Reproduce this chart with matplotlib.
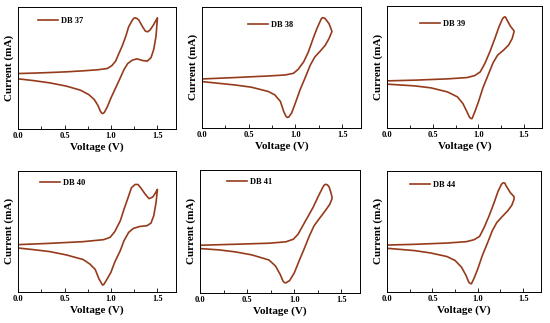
import matplotlib.pyplot as plt
from matplotlib.ticker import MultipleLocator

plt.rcParams['font.family'] = ['Liberation Serif', 'DejaVu Serif']
plt.rcParams['font.weight'] = 'bold'

# cyclic voltammograms, current in arbitrary units (no y scale on the figure)
labels = ['DB 37', 'DB 38', 'DB 39', 'DB 40', 'DB 41', 'DB 44']

v37 = [0.0, 0.16, 0.34, 0.52, 0.70, 0.85, 0.96, 1.01, 1.05, 1.08, 1.12, 1.16, 1.19, 1.23, 1.245, 1.26,
       1.28, 1.30, 1.34, 1.37, 1.395, 1.42, 1.46, 1.50,
       1.485, 1.46, 1.43, 1.39, 1.34, 1.28, 1.23, 1.18, 1.14, 1.10, 1.05, 1.00, 0.96, 0.93, 0.92,
       0.91, 0.90, 0.885, 0.86, 0.82, 0.76, 0.67, 0.52, 0.34, 0.16, 0.0]
i37 = [55.3, 55.7, 56.3, 57.0, 58.0, 59.0, 60.3, 63.3, 67.7, 74.3, 82.7, 92.7, 102.0, 108.7, 110.5, 111.0,
       110.3, 108.7, 102.0, 97.7, 97.0, 98.7, 104.3, 111.0,
       92.7, 79.3, 71.0, 67.7, 68.3, 70.0, 68.7, 65.3, 59.3, 51.0, 41.0, 31.0, 22.0, 16.7, 15.8,
       15.3, 15.8, 17.7, 23.3, 29.3, 34.3, 38.7, 42.7, 46.0, 48.3, 50.0]

v38 = [0.0, 0.35, 0.71, 0.89, 0.98, 1.03, 1.09, 1.14, 1.19, 1.23, 1.27, 1.28, 1.29, 1.305, 1.32, 1.36,
       1.39,
       1.39, 1.36, 1.32, 1.27, 1.21, 1.16, 1.11, 1.05, 1.00, 0.96, 0.93, 0.915, 0.90, 0.875, 0.84,
       0.78, 0.71, 0.53, 0.35, 0.17, 0.0]
i38 = [49.3, 50.7, 52.3, 53.3, 55.0, 59.0, 66.7, 76.7, 90.0, 100.0, 108.3, 110.3, 111.0, 110.8, 110.0,
       105.0, 97.7,
       96.7, 90.0, 83.3, 77.7, 71.7, 63.3, 51.7, 38.3, 25.0, 15.0, 11.0, 10.5, 11.7, 16.7, 26.7,
       33.3, 36.7, 41.0, 43.3, 45.0, 46.7]

v39 = [0.0, 0.30, 0.66, 0.875, 0.96, 1.02, 1.07, 1.125, 1.18, 1.225, 1.26, 1.275, 1.29, 1.30, 1.31,
       1.35, 1.39,
       1.39, 1.37, 1.33, 1.275, 1.21, 1.16, 1.11, 1.05, 1.00, 0.96, 0.93, 0.915, 0.90, 0.875, 0.83,
       0.77, 0.66, 0.48, 0.30, 0.0]
i39 = [47.0, 47.7, 49.0, 50.3, 52.3, 56.0, 64.3, 76.0, 89.3, 101.0, 108.3, 110.3, 111.0, 110.3, 108.3,
       101.7, 97.0,
       96.0, 89.3, 82.7, 77.7, 72.7, 65.0, 53.7, 40.3, 26.0, 16.0, 9.3, 9.5, 11.0, 16.0, 24.3,
       31.0, 36.0, 40.0, 42.0, 43.7]

v40 = [0.0, 0.34, 0.70, 0.92, 0.99, 1.04, 1.10, 1.14, 1.19, 1.22, 1.26, 1.29, 1.32, 1.37, 1.41,
       1.45, 1.48, 1.50,
       1.485, 1.46, 1.43, 1.385, 1.31, 1.24, 1.19, 1.14, 1.10, 1.04, 1.00, 0.95, 0.92, 0.91, 0.90,
       0.87, 0.83, 0.77, 0.70, 0.52, 0.34, 0.16, 0.0]
i40 = [47.7, 49.0, 50.7, 52.7, 55.0, 60.7, 71.7, 83.3, 96.7, 105.0, 108.3, 108.3, 105.0, 98.3, 94.0,
       95.7, 100.0, 103.3,
       90.0, 76.7, 69.3, 66.7, 66.0, 64.0, 60.0, 51.7, 41.7, 30.0, 20.0, 11.7, 7.3, 7.0, 8.3,
       13.3, 22.7, 28.3, 32.7, 37.3, 40.7, 42.7, 44.3]

v41 = [0.0, 0.375, 0.73, 0.91, 0.99, 1.04, 1.09, 1.14, 1.20, 1.25, 1.30, 1.315, 1.33, 1.35, 1.37,
       1.39, 1.40,
       1.40, 1.375, 1.33, 1.27, 1.21, 1.16, 1.11, 1.05, 1.00, 0.95, 0.91, 0.895, 0.88, 0.85, 0.80,
       0.73, 0.55, 0.375, 0.20, 0.0]
i41 = [47.3, 48.3, 49.3, 50.7, 53.3, 58.3, 66.7, 75.0, 85.0, 95.0, 104.3, 106.7, 107.7, 107.3, 105.0,
       99.0, 95.0,
       93.3, 87.7, 81.7, 74.3, 66.7, 56.7, 45.0, 31.7, 20.0, 12.3, 10.0, 10.3, 11.7, 18.3, 26.7,
       32.7, 37.7, 40.7, 42.7, 44.0]

v44 = [0.0, 0.30, 0.66, 0.875, 0.96, 1.02, 1.07, 1.125, 1.18, 1.225, 1.26, 1.275, 1.29, 1.30, 1.31,
       1.36, 1.40,
       1.40, 1.375, 1.33, 1.27, 1.21, 1.16, 1.11, 1.05, 1.00, 0.96, 0.93, 0.915, 0.90, 0.87, 0.82,
       0.75, 0.66, 0.48, 0.30, 0.0]
i44 = [47.3, 48.0, 49.3, 50.7, 52.7, 56.0, 65.0, 76.7, 90.0, 101.7, 108.3, 109.7, 110.0, 109.5, 107.3,
       100.0, 96.0,
       93.3, 87.3, 81.7, 76.0, 70.0, 61.7, 50.0, 36.7, 23.3, 14.0, 8.3, 8.6, 10.0, 16.7, 25.0,
       31.7, 35.7, 39.3, 41.7, 44.0]

voltages = [v37, v38, v39, v40, v41, v44]
currents = [i37, i38, i39, i40, i41, i44]

color = '#953b1c'

# axes boxes [left, bottom, width, height] and legend anchors (axes fraction)
boxes = [[0.033, 0.601, 0.287, 0.378], [0.367, 0.604, 0.289, 0.375], [0.704, 0.604, 0.282, 0.378],
         [0.033, 0.096, 0.287, 0.375], [0.364, 0.093, 0.291, 0.381], [0.704, 0.096, 0.280, 0.375]]
anchors = [(0.127, 0.885), (0.29, 0.85), (0.21, 0.85), (0.14, 0.90), (0.17, 0.90), (0.15, 0.885)]

fig = plt.figure(figsize=(5.5, 3.23), dpi=100)

for k in range(6):
    ax = fig.add_axes(boxes[k])
    ax.plot(voltages[k], currents[k], color=color, lw=1.2, label=labels[k],
            solid_joinstyle='round')
    ax.set_xlim(0, 1.7)
    ax.set_ylim(0, 122)
    ax.xaxis.set_major_locator(MultipleLocator(0.5))
    ax.xaxis.set_minor_locator(MultipleLocator(0.25))
    ax.set_yticks([])
    ax.tick_params(axis='x', which='both', direction='in', labelsize=6, pad=2)
    ax.tick_params(axis='x', which='major', length=3, width=0.6)
    ax.tick_params(axis='x', which='minor', length=2, width=0.6)
    for lbl in ax.get_xticklabels():
        lbl.set_fontweight('bold')
    for s in ax.spines.values():
        s.set_linewidth(0.7)
    ax.set_xlabel('Voltage (V)', fontsize=8, fontweight='bold', labelpad=2)
    ax.set_ylabel('Current (mA)', fontsize=8, fontweight='bold', labelpad=3)
    ax.legend(loc='center left', bbox_to_anchor=anchors[k], frameon=False, fontsize=6,
              handlelength=2.4, handletextpad=0.35, borderpad=0, borderaxespad=0)

fig.savefig('out.png', dpi=100)
